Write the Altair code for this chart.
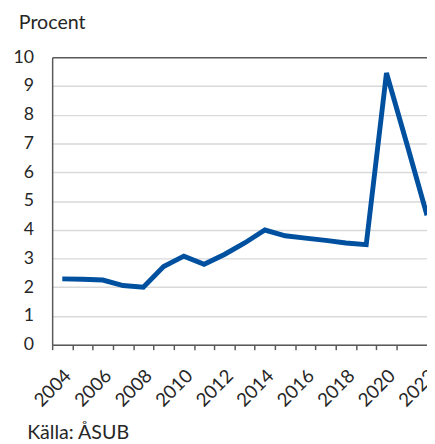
import altair as alt
import pandas as pd

years = list(range(2004, 2023))
values = [2.29, 2.28, 2.25, 2.06, 2.00, 2.72, 3.08, 2.80, 3.14, 3.54, 3.99,
          3.79, 3.71, 3.63, 3.54, 3.48, 9.45, 7.00, 4.50]
y_ticks = list(range(0, 11))
x_ticks = [y - 0.5 for y in years[:-1]] + [y for y in years]

df = pd.DataFrame({"year": years, "value": values})

FONT = "Lato"
FS = 18
FS_TXT = 20
TXT = "#262626"

x_axis = alt.Axis(
    values=sorted(x_ticks),
    labelExpr="datum.value % 2 === 0 ? toString(datum.value) : ''",
    labelAngle=-45, labelAlign="right", labelBaseline="top",
    labelPadding=17, labelOffset=-1, labelOverlap=False, labelBound=False, labelFlush=False,
    labelFont=FONT, labelFontSize=19, labelColor=TXT,
    tickSize=5, tickColor="#595959", tickWidth=1.5,
    tickOpacity={"condition": {"test": "datum.value % 1 === 0", "value": 0}, "value": 1},
    domainColor="#595959", domainWidth=1.5, grid=False,
    title="Källa: ÅSUB", titleFont=FONT, titleFontSize=FS_TXT, titleFontWeight="normal",
    titleColor=TXT, titleX=-26, titleY=96, titleAlign="left", titleBaseline="alphabetic",
    titleAnchor="start",
)

y_axis = alt.Axis(
    values=y_ticks, labelFont=FONT, labelFontSize=FS, labelColor=TXT,
    labelPadding=19, ticks=False, tickSize=0,
    domainColor="#595959", domainWidth=1.5,
    gridColor={"condition": {"test": "datum.value === 10", "value": "#595959"}, "value": "#d9d9d9"},
    gridWidth=1.5, title=None,
)

line = alt.Chart(df).mark_line(color="#0050A0", strokeWidth=5, strokeJoin="miter").encode(
    x=alt.X("year:Q", scale=alt.Scale(domain=[2003.5, 2022], nice=False, zero=False), axis=x_axis),
    y=alt.Y("value:Q", scale=alt.Scale(domain=[0, 10], nice=False), axis=y_axis),
)

chart = line.properties(
    width=382, height=293,
    autosize=alt.AutoSizeParams(type="none"),
    padding={"left": 45, "top": 46, "right": 0, "bottom": 98},
    title=alt.TitleParams("Procent", anchor="start", dx=-34, offset=0, font=FONT,
                          fontSize=FS_TXT, fontWeight="normal", color=TXT, baseline="alphabetic",
                          frame="group"),
).configure_view(stroke=None)

chart.save("out.html", embed_options={"renderer": "svg", "actions": False})
